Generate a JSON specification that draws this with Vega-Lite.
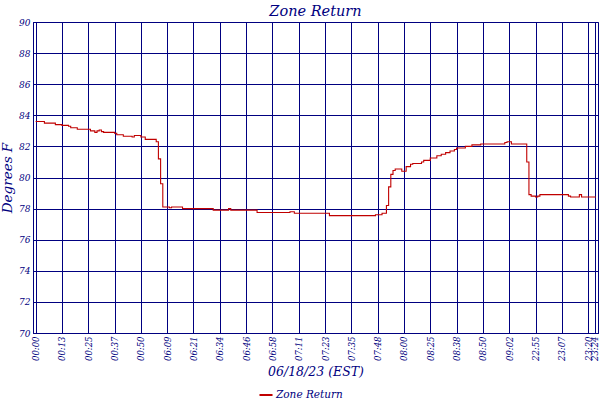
{
  "$schema": "https://vega.github.io/schema/vega-lite/v6.json",
  "autosize": "none",
  "width": 565,
  "height": 311,
  "padding": {"left": 33, "top": 22, "right": 2, "bottom": 67},
  "title": {"text": "Zone Return", "font": "DejaVu Serif", "fontStyle": "italic", "fontWeight": "normal", "fontSize": 14.5, "color": "#000080", "offset": 0, "dy": 1},
  "data": {"values": [
    {"i": 0, "temp": 83.6}, {"i": 4, "temp": 83.5}, {"i": 9, "temp": 83.4}, {"i": 12, "temp": 83.35},
    {"i": 15, "temp": 83.3}, {"i": 16, "temp": 83.2}, {"i": 19, "temp": 83.1}, {"i": 25, "temp": 83.0},
    {"i": 27, "temp": 82.9}, {"i": 28, "temp": 83.0}, {"i": 29, "temp": 83.05}, {"i": 30, "temp": 82.95},
    {"i": 31, "temp": 82.9}, {"i": 36, "temp": 82.85}, {"i": 37, "temp": 82.75}, {"i": 40, "temp": 82.65},
    {"i": 44, "temp": 82.6}, {"i": 45, "temp": 82.7}, {"i": 48, "temp": 82.6}, {"i": 50, "temp": 82.45},
    {"i": 55, "temp": 82.3}, {"i": 56, "temp": 81.2}, {"i": 57, "temp": 79.6}, {"i": 58, "temp": 78.1},
    {"i": 61, "temp": 78.05}, {"i": 62, "temp": 78.1}, {"i": 67, "temp": 78.0}, {"i": 81, "temp": 77.9},
    {"i": 88, "temp": 78.0}, {"i": 89, "temp": 77.9}, {"i": 101, "temp": 77.75}, {"i": 116, "temp": 77.8},
    {"i": 118, "temp": 77.7}, {"i": 134, "temp": 77.55}, {"i": 155, "temp": 77.6}, {"i": 158, "temp": 77.7},
    {"i": 160, "temp": 78.2}, {"i": 161, "temp": 79.4}, {"i": 162, "temp": 80.2}, {"i": 163, "temp": 80.45},
    {"i": 164, "temp": 80.55}, {"i": 167, "temp": 80.4}, {"i": 169, "temp": 80.7}, {"i": 171, "temp": 80.85},
    {"i": 172, "temp": 80.9}, {"i": 176, "temp": 81.0}, {"i": 177, "temp": 81.1}, {"i": 180, "temp": 81.25},
    {"i": 183, "temp": 81.4}, {"i": 185, "temp": 81.5}, {"i": 187, "temp": 81.6}, {"i": 189, "temp": 81.7},
    {"i": 191, "temp": 81.8}, {"i": 192, "temp": 81.9}, {"i": 196, "temp": 82.0}, {"i": 199, "temp": 82.1},
    {"i": 203, "temp": 82.15}, {"i": 214, "temp": 82.25}, {"i": 215, "temp": 82.3}, {"i": 217, "temp": 82.15},
    {"i": 224, "temp": 81.0}, {"i": 225, "temp": 78.9}, {"i": 226, "temp": 78.8}, {"i": 228, "temp": 78.75},
    {"i": 229, "temp": 78.8}, {"i": 230, "temp": 78.9}, {"i": 243, "temp": 78.8}, {"i": 244, "temp": 78.75},
    {"i": 248, "temp": 78.9}, {"i": 249, "temp": 78.75}, {"i": 255.5, "temp": 78.75}
  ]},
  "mark": {"type": "line", "interpolate": "step-after", "strokeWidth": 1.1},
  "encoding": {
    "x": {
      "field": "i", "type": "quantitative",
      "scale": {"domain": [-1.2, 256.5], "nice": false, "zero": false},
      "axis": {
        "values": [0, 12, 24, 36, 48, 60, 72, 84, 96, 108, 120, 132, 144, 156, 168, 180, 192, 204, 216, 228, 240, 252, 255],
        "labelExpr": "datum.value == 255 ? '23:24' : ['00:00','00:13','00:25','00:37','00:50','06:09','06:21','06:34','06:46','06:58','07:11','07:23','07:35','07:48','08:00','08:25','08:38','08:50','09:02','22:55','23:07','23:20'][round(datum.value/12)]",
        "labelAngle": 270,
        "labelOverlap": false,
        "labelBound": false,
        "labelFlush": false,
        "labelFontSize": 8.5,
        "labelPadding": 3,
        "title": "06/18/23 (EST)",
        "titleFontSize": 12.5,
        "titlePadding": 5
      }
    },
    "y": {
      "field": "temp", "type": "quantitative",
      "scale": {"domain": [70, 90], "nice": false, "zero": false},
      "axis": {
        "values": [70, 72, 74, 76, 78, 80, 82, 84, 86, 88, 90],
        "format": "d",
        "labelFontSize": 9,
        "labelPadding": 3,
        "title": "Degrees F",
        "titleFontSize": 13.5,
        "titlePadding": 4
      }
    },
    "color": {
      "datum": "Zone Return",
      "type": "nominal",
      "scale": {"range": ["#c00000"]},
      "legend": {
        "title": null,
        "orient": "none",
        "legendX": 225,
        "legendY": 365,
        "symbolType": "stroke",
        "symbolSize": 170,
        "symbolStrokeWidth": 2,
        "labelFont": "DejaVu Serif",
        "labelFontStyle": "italic",
        "labelFontSize": 10.5,
        "labelColor": "#000080",
        "labelOffset": 2
      }
    }
  },
  "config": {
    "font": "DejaVu Serif",
    "background": "white",
    "view": {"stroke": "#000080", "strokeWidth": 1},
    "axis": {
      "domainColor": "#000080",
      "gridColor": "#000080",
      "gridOpacity": 1,
      "gridWidth": 1,
      "grid": true,
      "ticks": false,
      "labelColor": "#000080",
      "titleColor": "#000080",
      "labelFont": "DejaVu Serif",
      "titleFont": "DejaVu Serif",
      "labelFontStyle": "italic",
      "titleFontStyle": "italic",
      "titleFontWeight": "normal"
    }
  }
}
